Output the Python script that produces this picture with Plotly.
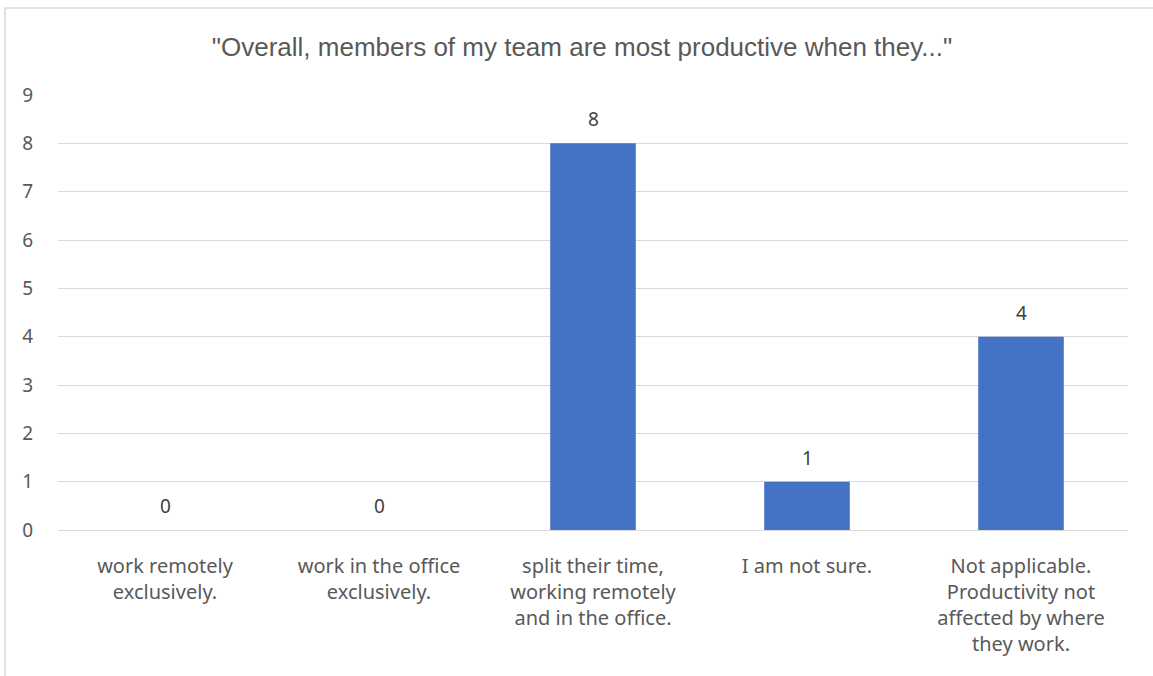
import plotly.graph_objects as go

categories = [
    "work remotely<br>exclusively.",
    "work in the office<br>exclusively.",
    "split their time,<br>working remotely<br>and in the office.",
    "I am not sure.",
    "Not applicable.<br>Productivity not<br>affected by where<br>they work.",
]
counts = [0, 0, 8, 1, 4]
y_ticks = list(range(0, 10))

base_family = "Noto Sans, Open Sans, sans-serif"

fig = go.Figure(
    go.Bar(
        x=categories,
        y=counts,
        marker=dict(color="#4472C4", line=dict(width=0)),
        width=0.4,
        hoverinfo="x+y",
    )
)

# Value labels sitting above each bar
for cat, val in zip(categories, counts):
    fig.add_annotation(
        x=cat,
        y=val,
        text=str(val),
        showarrow=False,
        yanchor="middle",
        yshift=24,
        font=dict(family=base_family, size=19, color="#404040"),
    )

fig.update_layout(
    width=1153,
    height=676,
    margin=dict(l=58, r=25, t=95, b=146),
    paper_bgcolor="white",
    plot_bgcolor="white",
    showlegend=False,
    title=dict(
        text='"Overall, members of my team are most productive when they..."',
        x=582 / 1153,
        xanchor="center",
        y=1 - 47 / 676,
        yanchor="middle",
        font=dict(family="Liberation Sans, Arial, sans-serif", size=26, color="#595959"),
    ),
    xaxis=dict(
        showgrid=False,
        showline=False,
        zeroline=False,
        ticks="",
        tickfont=dict(family=base_family, size=20, color="#595959"),
        ticklabelstandoff=22,
        fixedrange=True,
    ),
    yaxis=dict(
        range=[0, 9],
        tickvals=y_ticks,
        showgrid=True,
        gridcolor="#D9D9D9",
        gridwidth=1.3,
        zeroline=True,
        zerolinecolor="#D9D9D9",
        zerolinewidth=1.3,
        showline=False,
        ticks="",
        tickfont=dict(family=base_family, size=19, color="#595959"),
        ticklabelstandoff=24,
        fixedrange=True,
    ),
    bargap=0.6,
)

# Light frame around the chart area
fig.add_shape(
    type="rect",
    xref="paper",
    yref="paper",
    x0=(5 - 58) / 1070,
    x1=1.2,
    y0=-0.6,
    y1=(530 - 8) / 435,
    line=dict(color="#D9D9D9", width=1.5),
    fillcolor="rgba(0,0,0,0)",
    layer="below",
)

fig.write_html("out.html")
